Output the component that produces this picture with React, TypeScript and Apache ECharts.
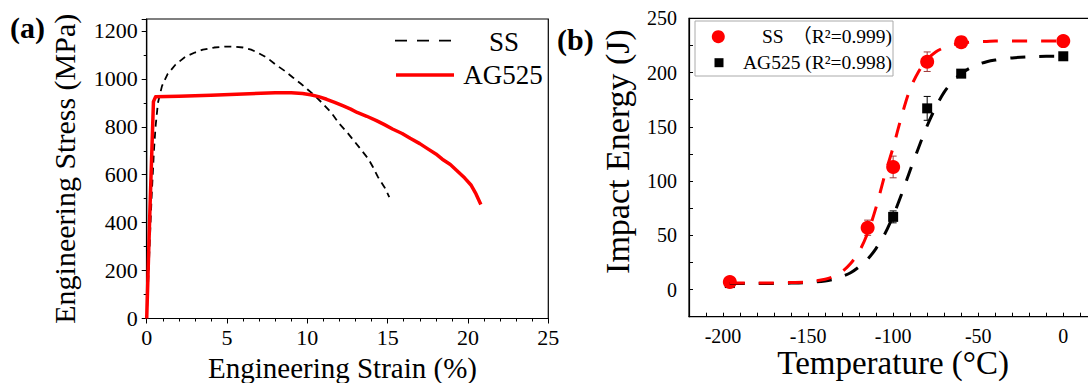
import React, { useEffect, useRef } from "react";
import * as echarts from "echarts";

const FONT = "Liberation Serif";

// ---------- Panel (a): tensile curves ----------
const strainRange = [0, 25];
const strainStep = 5;
const stressRange = [0, 1250];
const stressStep = 200;

const ssStrain = [0, 0.3, 0.45, 0.55, 0.7, 0.95, 1.3, 1.8, 2.4, 3.0, 3.5, 4.2, 4.9, 5.5, 6.0, 6.5, 6.9, 7.5, 8.0, 8.6, 9.1, 9.6, 10.0, 10.5, 10.9, 11.5, 12.0, 12.5, 12.9, 13.4, 13.8, 14.1, 14.4, 14.8, 15.1];
const ssStress = [0, 500, 700, 800, 900, 970, 1020, 1060, 1092, 1110, 1122, 1131, 1135, 1134, 1131, 1122, 1110, 1088, 1061, 1033, 1006, 980, 957, 928, 901, 858, 812, 775, 742, 700, 666, 630, 590, 548, 507];
const agStrain = [0, 0.2, 0.42, 0.55, 2, 4, 6, 8, 9, 9.7, 10.2, 10.7, 11.2, 11.7, 12.2, 12.7, 13.1, 13.7, 14.3, 14.8, 15.3, 15.9, 16.4, 17.0, 17.5, 18.0, 18.4, 18.9, 19.3, 19.8, 20.2, 20.5, 20.8];
const agStress = [0, 450, 905, 925, 928, 932, 937, 942, 942, 939, 934, 926, 915, 902, 888, 874, 860, 844, 826, 809, 791, 772, 752, 730, 708, 687, 665, 643, 618, 586, 556, 520, 476];

// ---------- Panel (b): Charpy impact energy ----------
const tempRange = [-220, 20];
const tempTickStep = 10;
const tempLabelStep = 50;
const energyRange = [-25, 250];
const energyTickStep = 25;
const energyLabelStep = 50;

const ssTemp = [-196, -115, -100, -80, -60, 0];
const ssEnergy = [7, 57, 113, 210, 228, 229];
const ssErr = [1, 7, 10, 9, 3, 2];
const agTemp = [-196, -100, -80, -60, 0];
const agEnergy = [6, 67, 167, 199, 215];
const agErr = [1, 5.5, 11, 2, 2];

const fitTemp = [-196, -180, -160, -150, -140, -135, -130, -125, -120, -115, -110, -105, -100, -95, -90, -85, -80, -75, -70, -65, -60, -55, -50, -45, -40, -30, -20, -10, 0];
const ssFit = [6, 6, 6.5, 7, 9.5, 12, 16.5, 24, 35, 52, 76, 105, 131, 160, 185, 201, 212, 219, 223, 225.5, 227, 228, 228.5, 228.7, 229, 229, 229, 229, 229];
const agFit = [5.5, 5.5, 6, 6.5, 8, 9.5, 12, 15.5, 21, 28, 38, 51, 68, 88, 110, 131, 151, 168, 182, 192, 199, 204, 207.5, 210, 211.5, 213.5, 214.5, 215, 215];

const zip = (xs: number[], ys: number[]) => xs.map((x, i) => [x, ys[i]]);
const errData = (xs: number[], ys: number[], es: number[]) =>
  xs.map((x, i) => [x, ys[i] - es[i], ys[i] + es[i]]);

const errorBarRender = (color: string) => (params: any, api: any) => {
  const x = api.value(0);
  const lo = api.coord([x, api.value(1)]);
  const hi = api.coord([x, api.value(2)]);
  const hw = 3.5;
  const style = { stroke: color, lineWidth: 1 };
  return {
    type: "group",
    children: [
      { type: "line", shape: { x1: lo[0], y1: lo[1], x2: hi[0], y2: hi[1] }, style },
      { type: "line", shape: { x1: hi[0] - hw, y1: hi[1], x2: hi[0] + hw, y2: hi[1] }, style },
      { type: "line", shape: { x1: lo[0] - hw, y1: lo[1], x2: lo[0] + hw, y2: lo[1] }, style },
    ],
  };
};

const axisLineStyle = { show: true, onZero: false, lineStyle: { color: "#000", width: 1.2 } };
const tickStyle = { color: "#000", width: 1, opacity: 1 };

const makeLabel = (size: number, margin: number, keep: (v: number) => boolean) => ({
  show: true,
  fontFamily: FONT,
  fontSize: size,
  color: "#000",
  margin,
  formatter: (v: number) => (keep(v) ? String(v) : ""),
});

const SERIF_CSS = `.paper-chart svg text { font-family: "Liberation Serif", "Noto Sans CJK SC", serif !important; }`;

export default function App() {
  const ref = useRef<HTMLDivElement>(null);

  useEffect(() => {
    if (!ref.current) return;
    const el = ref.current;
    const chart = echarts.init(el, undefined, { renderer: "svg" });

    const option: any = {
      animation: false,
      backgroundColor: "#fff",
      textStyle: { fontFamily: FONT, color: "#000" },
      grid: [
        {
          left: 146.7, top: 19, right: 539.7, bottom: 64.5, containLabel: false, outerBoundsMode: "none",
          show: true, borderColor: "#000", borderWidth: 1.2,
        },
        {
          left: 689, top: 18.3, right: -9.3, bottom: 66.3, containLabel: false, outerBoundsMode: "none",
          show: true, borderColor: "#000", borderWidth: 1.2,
        },
      ],
      xAxis: [
        {
          gridIndex: 0, type: "value", position: "bottom", min: strainRange[0], max: strainRange[1], interval: strainStep,
          axisLine: axisLineStyle,
          axisTick: { show: true, inside: false, length: 5, lineStyle: tickStyle },
          minorTick: { show: true, splitNumber: 5, length: 3, lineStyle: tickStyle },
          axisLabel: makeLabel(22, 8, () => true),
          splitLine: { show: false },
          name: "Engineering Strain (%)", nameLocation: "middle", nameGap: 35, nameMoveOverlap: false,
          nameTextStyle: { fontFamily: FONT, fontSize: 29, color: "#000", padding: [0, 10, 0, 0] },
        },
        {
          gridIndex: 1, type: "value", position: "bottom", min: tempRange[0], max: tempRange[1], interval: tempTickStep,
          axisLine: axisLineStyle,
          axisTick: { show: true, inside: true, length: 4, lineStyle: tickStyle },
          axisLabel: makeLabel(20, 9, (v) => Math.abs(v % tempLabelStep) < 1e-6),
          splitLine: { show: false },
          name: "Temperature (°C)", nameLocation: "middle", nameGap: 30, nameMoveOverlap: false,
          nameTextStyle: { fontFamily: FONT, fontSize: 33, color: "#000" },
        },
      ],
      yAxis: [
        {
          gridIndex: 0, type: "value", position: "left", min: stressRange[0], max: stressRange[1], interval: stressStep,
          axisLine: axisLineStyle,
          axisTick: { show: true, inside: false, length: 5, lineStyle: tickStyle },
          minorTick: { show: true, splitNumber: 2, length: 3, lineStyle: tickStyle },
          axisLabel: makeLabel(22, 9, (v) => Math.abs(v % stressStep) < 1e-6),
          splitLine: { show: false },
          name: "Engineering Stress (MPa)", nameLocation: "middle", nameGap: 67, nameMoveOverlap: false,
          nameTextStyle: { fontFamily: FONT, fontSize: 30, color: "#000" },
        },
        {
          gridIndex: 1, type: "value", position: "left", min: energyRange[0], max: energyRange[1], interval: energyTickStep,
          axisLine: axisLineStyle,
          axisTick: { show: true, inside: true, length: 4, lineStyle: tickStyle },
          axisLabel: makeLabel(20, 12, (v) => v >= 0 && Math.abs(v % energyLabelStep) < 1e-6),
          splitLine: { show: false },
          name: "Impact Energy (J)", nameLocation: "middle", nameGap: 55, nameMoveOverlap: false,
          nameTextStyle: { fontFamily: FONT, fontSize: 34, color: "#000", padding: [0, 0, 0, 32] },
        },
      ],
      series: [
        {
          name: "SS", type: "line", xAxisIndex: 0, yAxisIndex: 0, data: zip(ssStrain, ssStress),
          showSymbol: false, smooth: false,
          lineStyle: { color: "#000", width: 1.8, type: [7, 5] },
        },
        {
          name: "AG525", type: "line", xAxisIndex: 0, yAxisIndex: 0, data: zip(agStrain, agStress),
          showSymbol: false, smooth: false,
          lineStyle: { color: "#f00", width: 3.5, join: "round" },
        },
        {
          name: "AG525 fit", type: "line", xAxisIndex: 1, yAxisIndex: 1, data: zip(fitTemp, agFit),
          showSymbol: false, smooth: 0.3,
          lineStyle: { color: "#000", width: 3, type: [15, 14] },
        },
        {
          name: "SS fit", type: "line", xAxisIndex: 1, yAxisIndex: 1, data: zip(fitTemp, ssFit),
          showSymbol: false, smooth: 0.3,
          lineStyle: { color: "#f00", width: 3, type: [15, 14] },
        },
        {
          name: "AG525 err", type: "custom", xAxisIndex: 1, yAxisIndex: 1,
          data: errData(agTemp, agEnergy, agErr), encode: { x: 0, y: [1, 2] },
          renderItem: errorBarRender("#000"),
        },
        {
          name: "SS err", type: "custom", xAxisIndex: 1, yAxisIndex: 1,
          data: errData(ssTemp, ssEnergy, ssErr), encode: { x: 0, y: [1, 2] },
          renderItem: errorBarRender("#a03a3a"),
        },
        {
          name: "AG525 data", type: "scatter", xAxisIndex: 1, yAxisIndex: 1, data: zip(agTemp, agEnergy),
          symbol: "rect", symbolSize: 10, itemStyle: { color: "#000", opacity: 1 },
        },
        {
          name: "SS data", type: "scatter", xAxisIndex: 1, yAxisIndex: 1, data: zip(ssTemp, ssEnergy),
          symbol: "circle", symbolSize: 14, itemStyle: { color: "#f00", opacity: 1 },
        },
      ],
      graphic: [
        {
          type: "text", left: 10, top: 12, z: 20,
          style: { text: "(a)", fontFamily: FONT, fontSize: 30, fontWeight: "bold", fill: "#000" },
        },
        {
          type: "text", left: 557, top: 24, z: 20,
          style: { text: "(b)", fontFamily: FONT, fontSize: 30, fontWeight: "bold", fill: "#000" },
        },
        // legend (a)
        {
          type: "line", z: 20, shape: { x1: 395, y1: 40.7, x2: 452, y2: 40.7 },
          style: { stroke: "#000", lineWidth: 1.8, lineDash: [12, 10] },
        },
        {
          type: "line", z: 20, shape: { x1: 396, y1: 75, x2: 454, y2: 75 },
          style: { stroke: "#f00", lineWidth: 3.5 },
        },
        {
          type: "text", z: 20, x: 504, y: 42,
          style: { text: "SS", fontFamily: FONT, fontSize: 27, fill: "#000", textAlign: "center", textVerticalAlign: "middle", align: "center", verticalAlign: "middle" },
        },
        {
          type: "text", z: 20, x: 503, y: 75,
          style: { text: "AG525", fontFamily: FONT, fontSize: 27, fill: "#000", textAlign: "center", textVerticalAlign: "middle", align: "center", verticalAlign: "middle" },
        },
        // legend (b)
        {
          type: "rect", z: 20, shape: { x: 695, y: 21, width: 198, height: 55 },
          style: { fill: "#fff", stroke: "#aaa", lineWidth: 1 },
        },
        {
          type: "circle", z: 21, shape: { cx: 718.3, cy: 36.7, r: 6.5 },
          style: { fill: "#f00" },
        },
        {
          type: "rect", z: 21, shape: { x: 714.5, y: 58.2, width: 9, height: 9 },
          style: { fill: "#000" },
        },
        {
          type: "text", z: 21, x: 762, y: 36.7,
          style: { text: "SS", fontFamily: FONT, fontSize: 19.5, fill: "#000", textAlign: "left", textVerticalAlign: "middle", align: "left", verticalAlign: "middle" },
        },
        {
          type: "text", z: 21, x: 892, y: 36.7,
          style: { text: "（R²=0.999)", fontFamily: FONT, fontSize: 19.5, fill: "#000", textAlign: "right", textVerticalAlign: "middle", align: "right", verticalAlign: "middle" },
        },
        {
          type: "text", z: 21, x: 892, y: 62.7,
          style: { text: "AG525 (R²=0.998)", fontFamily: FONT, fontSize: 19.5, fill: "#000", textAlign: "right", textVerticalAlign: "middle", align: "right", verticalAlign: "middle" },
        },
      ],
    };

    chart.setOption(option);
    return () => chart.dispose();
  }, []);

  return (
    <>
      <style>{SERIF_CSS}</style>
      <div
        ref={ref}
        className="paper-chart"
        style={{ position: "absolute", left: 0, top: 0, width: 1088, height: 383, background: "#fff" }}
      />
    </>
  );
}
